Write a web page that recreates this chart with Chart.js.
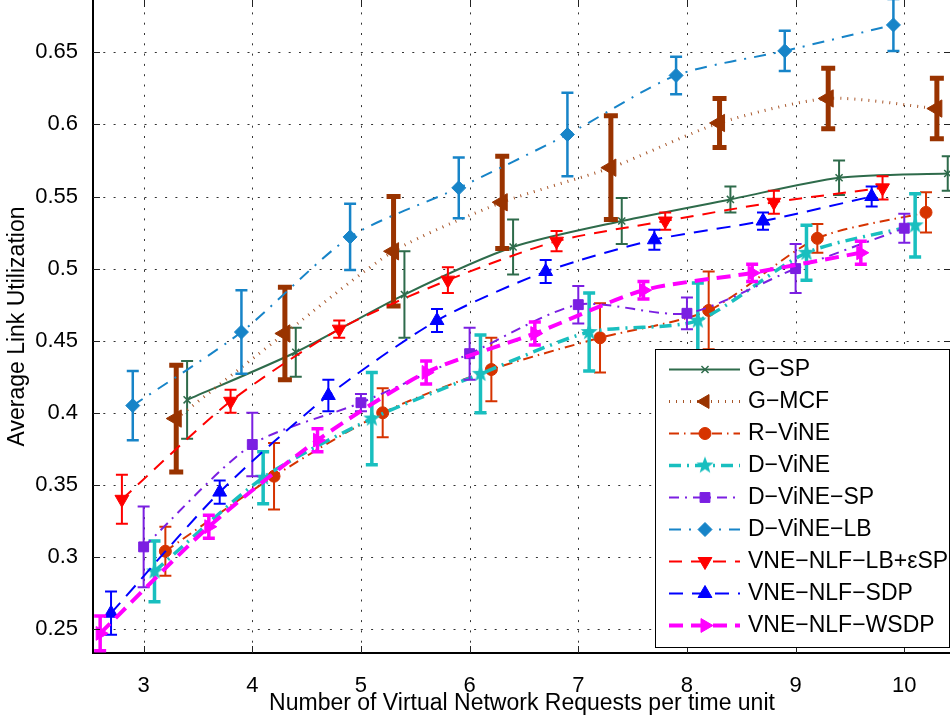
<!DOCTYPE html>
<html>
<head>
<meta charset="utf-8">
<script src="https://cdn.jsdelivr.net/npm/chart.js@4.4.0/dist/chart.umd.min.js"></script>
<style>
  html, body { margin: 0; padding: 0; background: #fff; overflow: hidden; }
  #wrap { position: absolute; left: 0; top: 0; width: 953px; height: 720px; }
</style>
</head>
<body>
<div id="wrap"><canvas id="util" width="953" height="720"></canvas></div>
<script>
// --- Datos ---
const requests = [3, 4, 5, 6, 7, 8, 9, 10];
const xTicks = [3, 4, 5, 6, 7, 8, 9, 10];
const yTicks = [0.25, 0.3, 0.35, 0.4, 0.45, 0.5, 0.55, 0.6, 0.65];

const names = ["G−SP", "G−MCF", "R−ViNE", "D−ViNE", "D−ViNE−SP", "D−ViNE−LB",
  "VNE−NLF−LB+εSP", "VNE−NLF−SDP", "VNE−NLF−WSDP"];
// desplazamiento horizontal de cada curva para que no se tapen las barras
const shifts = [0.4, 0.3, 0.2, 0.1, 0, -0.1, -0.2, -0.3, -0.4];

const gSP      = [0.409, 0.442, 0.482, 0.515, 0.533, 0.548, 0.563, 0.566];
const gMCF     = [0.396, 0.455, 0.512, 0.546, 0.570, 0.601, 0.618, 0.611];
const rViNE    = [0.304, 0.356, 0.400, 0.430, 0.452, 0.471, 0.521, 0.539];
const dViNE    = [0.290, 0.355, 0.396, 0.427, 0.456, 0.464, 0.511, 0.530];
const dViNESP  = [0.307, 0.378, 0.407, 0.441, 0.475, 0.469, 0.500, 0.528];
const dViNELB  = [0.405, 0.456, 0.522, 0.556, 0.593, 0.634, 0.651, 0.669];
const nlfLB    = [0.340, 0.408, 0.458, 0.492, 0.519, 0.533, 0.546, 0.556];
const nlfSDP   = [0.261, 0.345, 0.412, 0.464, 0.498, 0.520, 0.533, 0.550];
const nlfWSDP  = [0.247, 0.321, 0.381, 0.428, 0.455, 0.485, 0.497, 0.511];

// semiancho de las barras de error
const gSPErr     = [0.027, 0.017, 0.030, 0.019, 0.016, 0.009, 0.012, 0.012];
const gMCFErr    = [0.037, 0.032, 0.038, 0.032, 0.036, 0.017, 0.021, 0.021];
const rViNEErr   = [0.017, 0.023, 0.017, 0.022, 0.024, 0.027, 0.010, 0.014];
const dViNEErr   = [0.021, 0.018, 0.032, 0.027, 0.027, 0.026, 0.019, 0.022];
const dViNESPErr = [0.028, 0.022, 0.006, 0.018, 0.013, 0.011, 0.017, 0.010];
const dViNELBErr = [0.024, 0.029, 0.023, 0.021, 0.029, 0.013, 0.014, 0.018];
const nlfLBErr   = [0.017, 0.008, 0.006, 0.009, 0.007, 0.006, 0.008, 0.008];
const nlfSDPErr  = [0.015, 0.008, 0.011, 0.008, 0.008, 0.007, 0.006, 0.007];
const nlfWSDPErr = [0.012, 0.008, 0.008, 0.008, 0.008, 0.006, 0.006, 0.008];

const means = [gSP, gMCF, rViNE, dViNE, dViNESP, dViNELB, nlfLB, nlfSDP, nlfWSDP];
const spreads = [gSPErr, gMCFErr, rViNEErr, dViNEErr, dViNESPErr, dViNELBErr, nlfLBErr, nlfSDPErr, nlfWSDPErr];

// --- Estrella rellena (Chart.js no trae una) ---
function starImage(color, outer, inner) {
  const size = 20;
  const c = document.createElement("canvas");
  c.width = c.height = size;
  const g = c.getContext("2d");
  g.fillStyle = color;
  g.beginPath();
  for (let k = 0; k < 10; k++) {
    const r = k % 2 ? inner : outer;
    const a = -Math.PI / 2 + k * Math.PI / 5;
    g.lineTo(size / 2 + r * Math.cos(a), size / 2 + r * Math.sin(a));
  }
  g.closePath();
  g.fill();
  return c;
}

// --- Estilos de cada curva ---
const looks = [
  { color: "#2E6B4B", line: "#2E6B4B", width: 2,   dash: [],              marker: "crossRot", radius: 5,  rotation: 0,   markerLine: 1.5, bar: 2,   cap: 6 },
  { color: "#993300", line: "#A8572B", width: 3,   dash: [1, 6],          marker: "triangle", radius: 10, rotation: -90, markerLine: 1,   bar: 5,   cap: 7 },
  { color: "#D63300", line: "#D63300", width: 2,   dash: [10, 5, 1.5, 5], marker: "circle",   radius: 6,  rotation: 0,   markerLine: 1,   bar: 2,   cap: 6 },
  { color: "#19BFBF", line: "#19BFBF", width: 3.5, dash: [12, 6, 2, 6],   marker: starImage("#19BFBF", 9, 3.8), radius: 8, rotation: 0, markerLine: 0, bar: 3.5, cap: 6 },
  { color: "#7B1FE2", line: "#7B1FE2", width: 2,   dash: [10, 6, 2, 6],   marker: "rect",     radius: 7,  rotation: 0,   markerLine: 1,   bar: 2,   cap: 6 },
  { color: "#1784C8", line: "#1784C8", width: 2,   dash: [12, 8, 2, 8],   marker: "rectRot",  radius: 7,  rotation: 0,   markerLine: 1,   bar: 2.5, cap: 6 },
  { color: "#FF0000", line: "#FF0000", width: 2,   dash: [13, 9],         marker: "triangle", radius: 8,  rotation: 180, markerLine: 1,   bar: 2,   cap: 6 },
  { color: "#0000FF", line: "#0000FF", width: 2,   dash: [14, 9],         marker: "triangle", radius: 8,  rotation: 0,   markerLine: 1,   bar: 2,   cap: 6 },
  { color: "#FF00FF", line: "#FF00FF", width: 4,   dash: [14, 8],         marker: "triangle", radius: 8,  rotation: 90,  markerLine: 1,   bar: 3.5, cap: 6 },
];

const datasets = names.map((name, i) => ({
  label: name,
  data: requests.map((r, j) => ({ x: r + shifts[i], y: means[i][j] })),
  borderColor: looks[i].line,
  borderWidth: looks[i].width,
  borderDash: looks[i].dash,
  borderCapStyle: "butt",
  tension: 0.25,
  fill: false,
  pointStyle: looks[i].marker,
  pointRadius: looks[i].radius,
  pointRotation: looks[i].rotation,
  pointBackgroundColor: looks[i].color,
  pointBorderColor: looks[i].color,
  pointBorderWidth: looks[i].markerLine,
  order: names.length - 1 - i,   // la última curva queda encima
}));

// --- Rejilla punteada ---
const dottedGrid = {
  id: "dottedGrid",
  beforeDatasetsDraw(chart) {
    const { ctx, chartArea: a, scales: { x, y } } = chart;
    ctx.save();
    ctx.strokeStyle = "#333";
    ctx.lineWidth = 1;
    ctx.setLineDash([2, 8.3]);
    ctx.beginPath();
    xTicks.forEach(v => {
      const p = Math.round(x.getPixelForValue(v)) + 0.5;
      ctx.moveTo(p, a.bottom); ctx.lineTo(p, a.top);
    });
    yTicks.forEach(v => {
      const p = Math.round(y.getPixelForValue(v)) + 0.5;
      ctx.moveTo(a.left, p); ctx.lineTo(a.right, p);
    });
    ctx.stroke();
    ctx.restore();
  }
};

// --- Barras de error, dibujadas junto con su curva ---
const errorBars = {
  id: "errorBars",
  beforeDatasetDraw(chart, args) {
    const i = args.index;
    const lk = looks[i];
    const { ctx, chartArea: a, scales: { x, y } } = chart;
    ctx.save();
    ctx.beginPath();
    ctx.rect(a.left, a.top, a.right - a.left, a.bottom - a.top);
    ctx.clip();
    ctx.strokeStyle = lk.color;
    ctx.lineWidth = lk.bar;
    ctx.setLineDash([]);
    requests.forEach((r, j) => {
      const px = x.getPixelForValue(r + shifts[i]);
      const lo = y.getPixelForValue(means[i][j] - spreads[i][j]);
      const hi = y.getPixelForValue(means[i][j] + spreads[i][j]);
      ctx.beginPath();
      ctx.moveTo(px, lo); ctx.lineTo(px, hi);
      ctx.moveTo(px - lk.cap, lo); ctx.lineTo(px + lk.cap, lo);
      ctx.moveTo(px - lk.cap, hi); ctx.lineTo(px + lk.cap, hi);
      ctx.stroke();
    });
    ctx.restore();
  }
};

// --- Marcas hacia adentro en los cuatro lados ---
const boxTicks = {
  id: "boxTicks",
  afterDatasetsDraw(chart) {
    const { ctx, chartArea: a, scales: { x, y } } = chart;
    ctx.save();
    ctx.strokeStyle = "#222";
    ctx.lineWidth = 1;
    ctx.beginPath();
    xTicks.forEach(v => {
      const p = Math.round(x.getPixelForValue(v)) + 0.5;
      ctx.moveTo(p, a.bottom); ctx.lineTo(p, a.bottom - 7);
      ctx.moveTo(p, a.top); ctx.lineTo(p, a.top + 7);
    });
    yTicks.forEach(v => {
      const p = Math.round(y.getPixelForValue(v)) + 0.5;
      ctx.moveTo(a.left, p); ctx.lineTo(a.left + 7, p);
      ctx.moveTo(a.right, p); ctx.lineTo(a.right - 7, p);
    });
    ctx.moveTo(a.right - 0.5, a.top); ctx.lineTo(a.right - 0.5, a.bottom);
    ctx.stroke();
    ctx.restore();
  }
};

// --- Leyenda con muestra de línea y marcador ---
const legendBox = {
  id: "legendBox",
  afterDraw(chart) {
    const ctx = chart.ctx;
    const x0 = 655, y0 = 349, x1 = 949, y1 = 647;
    ctx.save();
    ctx.fillStyle = "#fff";
    ctx.fillRect(x0, y0, x1 - x0, y1 - y0);
    ctx.strokeStyle = "#000";
    ctx.lineWidth = 1;
    ctx.strokeRect(x0 + 0.5, y0 + 0.5, x1 - x0, y1 - y0);
    names.forEach((name, i) => {
      const lk = looks[i];
      const yy = 369.5 + 32 * i;
      ctx.setLineDash(lk.dash);
      ctx.lineWidth = lk.width;
      ctx.strokeStyle = lk.line;
      ctx.beginPath();
      ctx.moveTo(669, yy); ctx.lineTo(740, yy);
      ctx.stroke();
      ctx.setLineDash([]);
      ctx.fillStyle = lk.color;
      ctx.strokeStyle = lk.color;
      ctx.lineWidth = lk.markerLine;
      Chart.helpers.drawPoint(ctx, {
        pointStyle: lk.marker, rotation: lk.rotation, radius: Math.min(lk.radius, 8), borderWidth: lk.markerLine
      }, 705, yy);
      ctx.fillStyle = "#000";
      ctx.font = '23px "Liberation Sans", Arial, sans-serif';
      ctx.textBaseline = "middle";
      ctx.textAlign = "left";
      ctx.fillText(name, 748, yy);
    });
    ctx.restore();
  }
};

Chart.defaults.font.family = '"Liberation Sans", Arial, sans-serif';
Chart.defaults.font.size = 22;
Chart.defaults.color = "#000";

const noPad = s => { s.paddingLeft = 0; s.paddingRight = 0; s.paddingTop = 0; s.paddingBottom = 0; };

new Chart(document.getElementById("util"), {
  type: "line",
  data: { datasets },
  options: {
    responsive: false,
    animation: false,
    devicePixelRatio: 1,
    events: [],
    layout: { autoPadding: false, padding: { left: 0, top: 0, right: 2, bottom: 0 } },
    plugins: { legend: { display: false }, tooltip: { enabled: false } },
    scales: {
      x: {
        type: "linear",
        min: 2.534,
        max: 10.43,
        afterBuildTicks: s => { s.ticks = xTicks.map(v => ({ value: v })); },
        afterFit: s => { s.height = 67; noPad(s); },
        grid: { display: false },
        border: { display: true, color: "#000", width: 2 },
        ticks: { padding: 12, maxRotation: 0, autoSkip: false },
        title: {
          display: true,
          text: "Number of Virtual Network Requests per time unit",
          font: { size: 23 },
          padding: { top: 0, bottom: 3 }
        }
      },
      y: {
        type: "linear",
        min: 0.2334,
        max: 0.6863,
        afterBuildTicks: s => { s.ticks = yTicks.map(v => ({ value: v })); },
        afterFit: s => { s.width = 93; noPad(s); },
        grid: { display: false },
        border: { display: true, color: "#000", width: 2 },
        ticks: { padding: 7, autoSkip: false, callback: v => String(Number(v.toFixed(2))) },
        title: { display: true, text: "Average Link Utilization", font: { size: 23 }, padding: { top: 4 } }
      }
    }
  },
  plugins: [dottedGrid, errorBars, boxTicks, legendBox]
});
</script>
</body>
</html>
